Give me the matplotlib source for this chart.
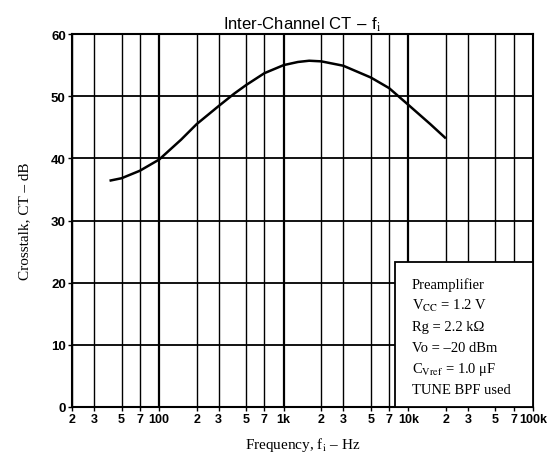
import numpy as np
import matplotlib
matplotlib.use("Agg")
import matplotlib.pyplot as plt
from matplotlib.patches import Rectangle

# curve (Hz, dB)
freq = [40, 50, 70, 100, 150, 200, 300, 400, 500, 700, 1000, 1300, 1600,
        2000, 3000, 5000, 7000, 10000, 15000, 20000]
ct = [36.4, 36.8, 38.0, 39.8, 43.0, 45.5, 48.4, 50.4, 51.8, 53.7, 55.0,
      55.5, 55.7, 55.6, 54.9, 53.0, 51.3, 48.6, 45.5, 43.2]

xtick_vals = [20, 30, 50, 70, 100, 200, 300, 500, 700, 1000, 2000, 3000,
              5000, 7000, 10000, 20000, 30000, 50000, 70000, 100000]
xtick_labels = ["2", "3", "5", "7", "100", "2", "3", "5", "7", "1k", "2",
                "3", "5", "7", "10k", "2", "3", "5", "7", "100k"]
ytick_vals = [0, 10, 20, 30, 40, 50, 60]
decades = [100, 1000, 10000]

notes = ["Preamplifier", r"V$_{\mathrm{CC}}$ = 1.2 V", "Rg = 2.2 k\u03a9",
         "Vo = \u201320 dBm", r"C$_{\mathrm{Vref}}$ = 1.0 " + "\u03bcF",
         "TUNE BPF used"]

plt.rcParams["mathtext.fontset"] = "stix"
W, H = 559, 460
fig = plt.figure(figsize=(W / 100, H / 100), dpi=100)
ax = fig.add_axes([72 / W, 1 - 408 / H, (533 - 72) / W, (408 - 35) / H])

ax.set_xscale("log")
ax.set_xlim(20, 100000)
ax.set_ylim(0, 60)

# grid
for x in xtick_vals[:-1]:
    lw = 1.6 if x in decades else 1.0
    ax.axvline(x, color="black", lw=lw, zorder=1)
for y in ytick_vals[1:-1]:
    ax.axhline(y, color="black", lw=1.3, zorder=1)

ax.plot(freq, ct, color="black", lw=1.8, zorder=3,
        solid_capstyle="butt", solid_joinstyle="round")

# condition box covers the grid in the lower right
ax.add_patch(Rectangle((0.70, 0.0), 0.30, 0.389, transform=ax.transAxes,
                       facecolor="white", edgecolor="black", lw=1.3, zorder=4))
for i, s in enumerate(notes):
    ax.text(412 / W, 1 - (285 + i * 21.2) / H, s, transform=fig.transFigure,
            family="Liberation Serif", fontsize=10.5, va="center", ha="left",
            zorder=5)

for sp in ax.spines.values():
    sp.set_linewidth(1.5)

ax.minorticks_off()
ax.set_xticks(xtick_vals)
ax.set_xticklabels(xtick_labels, family="Liberation Sans", fontsize=9,
                   fontweight="bold")
ax.set_yticks(ytick_vals)
ax.set_yticklabels([str(v) for v in ytick_vals], family="Liberation Sans",
                   fontsize=9.5, fontweight="bold")
ax.tick_params(axis="both", length=3, width=1.0, pad=1.5)

ax.set_title(r"Inter-Channel CT $-$ f$_{\mathrm{i}}$", family="Liberation Sans",
             fontsize=12, pad=4)
ax.set_ylabel("Crosstalk, CT \u2013 dB", family="Liberation Serif", fontsize=11,
              labelpad=14)
ax.set_xlabel(r"Frequency, f$_{\mathrm{i}}$" + " \u2013 Hz",
              family="Liberation Serif", fontsize=11, labelpad=7)

fig.savefig("out.png", dpi=100)
